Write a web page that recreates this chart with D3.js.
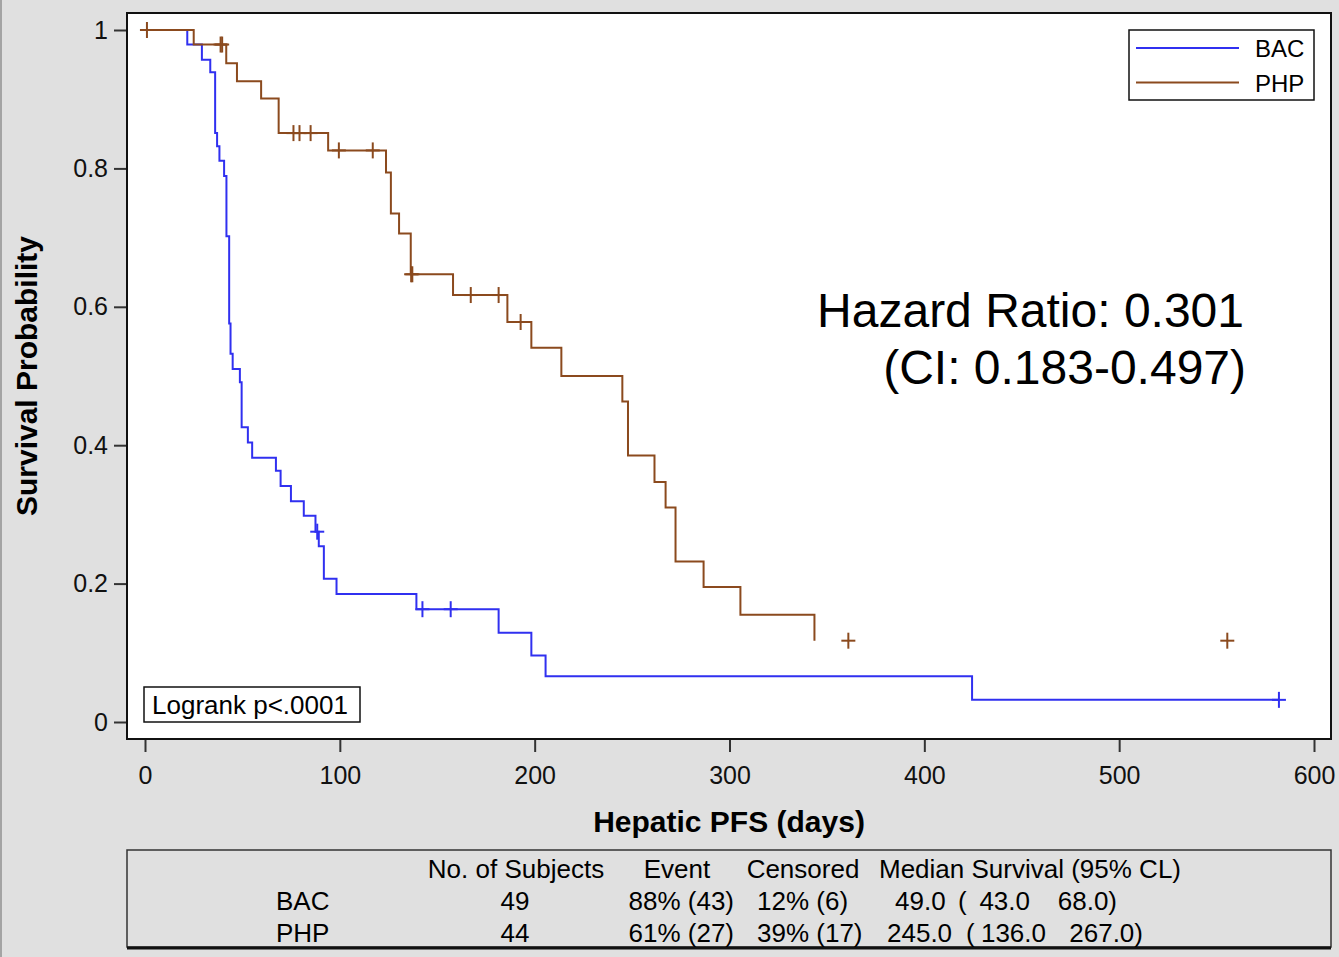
<!DOCTYPE html>
<html>
<head>
<meta charset="utf-8">
<script src="https://cdn.jsdelivr.net/npm/d3@7"></script>
<style>
  body { margin: 0; background: #e0e0e0; }
  svg { display: block; font-family: Arial, "Liberation Sans", sans-serif; }
</style>
</head>
<body>
<script>
// Kaplan-Meier steps: [day, survival after the step]
const bacSteps = [[0, 1], [21.7, 0.979], [29.2, 0.957], [33.5, 0.939], [36, 0.851], [37, 0.832],
  [38.2, 0.811], [40.6, 0.789], [41.8, 0.702], [43.2, 0.576], [43.9, 0.532], [45, 0.510],
  [48.7, 0.491], [49.6, 0.426], [52.8, 0.404], [55, 0.382], [67.2, 0.363], [69.6, 0.341],
  [74.9, 0.319], [81.5, 0.298], [87.5, 0.275], [89.2, 0.254], [91.8, 0.207], [98.3, 0.185],
  [139.3, 0.163], [181.5, 0.129], [198.3, 0.096], [205.6, 0.066], [424.5, 0.032]];
const bacCensored = [88.4, 142.4, 156.9, 582];
const bacEnd = 582;

const phpSteps = [[0, 1], [25, 0.979], [41.7, 0.952], [47.2, 0.926], [59.6, 0.901], [68.6, 0.851],
  [94, 0.826], [123.7, 0.794], [126.2, 0.735], [130.4, 0.706], [136.4, 0.647], [158.1, 0.617],
  [186, 0.578], [198.3, 0.541], [213.7, 0.5], [245, 0.463], [247.9, 0.385], [261.5, 0.347],
  [267.2, 0.310], [272.3, 0.232], [286.7, 0.195], [305.6, 0.155], [343.6, 0.1175]];
const phpCensored = [1, 38.8, 39.6, 76.2, 79.3, 85, 99.5, 116.9, 136.6, 137.2, 167.2, 181.5, 192.8, 361, 555.5];
const phpEnd = 343.6;

const groups = ['BAC', 'PHP'];
const colors = ['#3030f0', '#8b4a1e'];

const xTicks = [0, 100, 200, 300, 400, 500, 600];
const yTicks = [0, 0.2, 0.4, 0.6, 0.8, 1];

const tableHeader = ['No. of Subjects', 'Event', 'Censored', 'Median Survival (95% CL)'];
const tableSubjects = ['49', '44'];
const tableEvent = ['88% (43)', '61% (27)'];
const tableCensored = ['12% (6)', '39% (17)'];
const tableMedian = [['49.0', '(', '43.0', '68.0)'], ['245.0', '(', '136.0', '267.0)']];

const W = 1339, H = 957;
const svg = d3.select('body').append('svg')
	.attr('width', W)
	.attr('height', H);

svg.append('rect').attr('width', W).attr('height', H).attr('fill', '#e0e0e0');
svg.append('rect').attr('x', 0).attr('y', 0).attr('width', 2).attr('height', H).attr('fill', '#a4a4a4');

// plot frame
const frame = { left: 127, top: 13, right: 1331, bottom: 739 };
svg.append('rect')
	.attr('x', frame.left).attr('y', frame.top)
	.attr('width', frame.right - frame.left).attr('height', frame.bottom - frame.top)
	.attr('fill', '#fff');

const x = d3.scaleLinear().domain([0, 600]).range([145, 1314]);
const y = d3.scaleLinear().domain([0, 1]).range([722, 30]);

// axes
const yAxis = svg.append('g')
	.attr('transform', `translate(${frame.left},0)`)
	.call(d3.axisLeft(y).tickValues(yTicks).tickSize(13).tickPadding(6)
		.tickFormat(d => d === 0 || d === 1 ? d3.format('d')(d) : d3.format('.1f')(d)));
const xAxis = svg.append('g')
	.attr('transform', `translate(0,${frame.bottom})`)
	.call(d3.axisBottom(x).tickValues(xTicks).tickSize(13).tickPadding(14));
[xAxis, yAxis].forEach(a => {
	a.select('.domain').remove();
	a.selectAll('line').attr('stroke', '#333').attr('stroke-width', 2);
	a.selectAll('text').attr('font-size', 25).attr('fill', '#111')
		.attr('font-family', 'Arial, "Liberation Sans", sans-serif');
});

svg.append('text')
	.attr('x', 729).attr('y', 832)
	.attr('text-anchor', 'middle')
	.attr('font-size', 30).attr('font-weight', 'bold')
	.text('Hepatic PFS (days)');
svg.append('text')
	.attr('transform', 'translate(37,376) rotate(-90)')
	.attr('text-anchor', 'middle')
	.attr('font-size', 30).attr('font-weight', 'bold')
	.text('Survival Probability');

// curves
const line = d3.line()
	.x(d => x(d[0]))
	.y(d => y(d[1]))
	.curve(d3.curveStepAfter);

function survAt(steps, t) {
	const i = d3.bisector(d => d[0]).right(steps, t) - 1;
	return steps[Math.max(0, i)][1];
}

const series = [
	{ steps: bacSteps, censored: bacCensored, end: bacEnd },
	{ steps: phpSteps, censored: phpCensored, end: phpEnd }
];

series.forEach((s, i) => {
	const pts = s.steps.concat([[s.end, s.steps[s.steps.length - 1][1]]]);
	svg.append('path')
		.attr('d', line(pts))
		.attr('fill', 'none')
		.attr('stroke', colors[i])
		.attr('stroke-width', 2);

	const marks = svg.append('g').attr('stroke', colors[i]).attr('stroke-width', 2);
	s.censored.forEach(t => {
		const cx = x(t), cy = y(survAt(s.steps, t));
		marks.append('line').attr('x1', cx - 7).attr('x2', cx + 7).attr('y1', cy).attr('y2', cy);
		marks.append('line').attr('x1', cx).attr('x2', cx).attr('y1', cy - 8).attr('y2', cy + 8);
	});
});

// frame border on top
svg.append('rect')
	.attr('x', frame.left).attr('y', frame.top)
	.attr('width', frame.right - frame.left).attr('height', frame.bottom - frame.top)
	.attr('fill', 'none').attr('stroke', '#111').attr('stroke-width', 2);

// legend
const legend = svg.append('g');
legend.append('rect')
	.attr('x', 1129).attr('y', 30).attr('width', 185).attr('height', 70)
	.attr('fill', '#fff').attr('stroke', '#111').attr('stroke-width', 1.5);
groups.forEach((g, i) => {
	const ly = 48 + i * 34.5;
	legend.append('line')
		.attr('x1', 1136).attr('x2', 1239).attr('y1', ly).attr('y2', ly)
		.attr('stroke', colors[i]).attr('stroke-width', 2);
	legend.append('text')
		.attr('x', 1255).attr('y', ly + 9)
		.attr('font-size', 24)
		.text(g);
});

// logrank box
svg.append('rect')
	.attr('x', 144).attr('y', 687).attr('width', 216).attr('height', 35)
	.attr('fill', '#fff').attr('stroke', '#111').attr('stroke-width', 1.5);
svg.append('text')
	.attr('x', 152).attr('y', 714)
	.attr('font-size', 26)
	.text('Logrank p<.0001');

// hazard ratio
svg.append('text')
	.attr('x', 1244).attr('y', 327)
	.attr('text-anchor', 'end')
	.attr('font-size', 48)
	.text('Hazard Ratio: 0.301');
svg.append('text')
	.attr('x', 1246).attr('y', 384)
	.attr('text-anchor', 'end')
	.attr('font-size', 48)
	.text('(CI: 0.183-0.497)');

// summary table
const table = svg.append('g').attr('font-size', 26);
table.append('rect')
	.attr('x', 127).attr('y', 850).attr('width', 1204).attr('height', 97)
	.attr('fill', 'none').attr('stroke', '#333').attr('stroke-width', 1.5);
table.append('line')
	.attr('x1', 127).attr('x2', 1331).attr('y1', 948).attr('y2', 948)
	.attr('stroke', '#111').attr('stroke-width', 3);

const headerX = [516, 677, 803, 1030];
tableHeader.forEach((h, i) => {
	table.append('text').attr('x', headerX[i]).attr('y', 878)
		.attr('text-anchor', 'middle').text(h);
});
const rowY = [910, 942];
// piece anchors: start, start, end, end
const medianX = [[895, 958, 1030, 1117], [887, 966, 1046, 1143]];
const medianAnchor = ['start', 'start', 'end', 'end'];
groups.forEach((g, r) => {
	table.append('text').attr('x', 276).attr('y', rowY[r]).text(g);
	table.append('text').attr('x', 515).attr('y', rowY[r]).attr('text-anchor', 'middle').text(tableSubjects[r]);
	table.append('text').attr('x', 734).attr('y', rowY[r]).attr('text-anchor', 'end').text(tableEvent[r]);
	table.append('text').attr('x', 757).attr('y', rowY[r]).text(tableCensored[r]);
	tableMedian[r].forEach((m, k) => {
		table.append('text').attr('x', medianX[r][k]).attr('y', rowY[r])
			.attr('text-anchor', medianAnchor[k]).text(m);
	});
});
</script>
</body>
</html>
